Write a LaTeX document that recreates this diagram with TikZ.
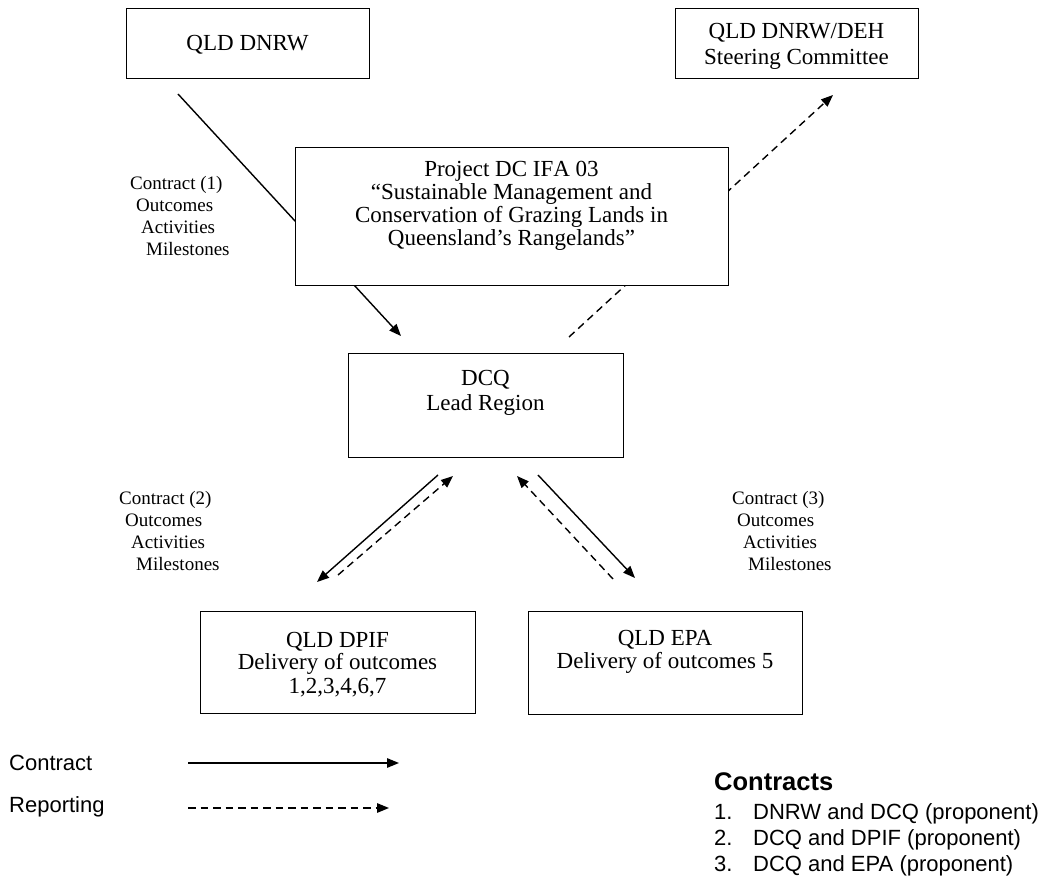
\documentclass[tikz,border=0pt]{standalone}
\usepackage{fontspec}
\setmainfont{Liberation Serif}
\newfontfamily\arialfont{Liberation Sans}
\usetikzlibrary{arrows.meta}
\begin{document}
\begin{tikzpicture}[x=1pt,y=-1pt,
  box/.style={draw, line width=1.3pt, fill=white, inner sep=0pt, anchor=north west},
  btxt/.style={font=\fontsize{23}{23}\selectfont, anchor=base, inner sep=0pt},
  lbl/.style={font=\fontsize{19}{19}\selectfont, anchor=base west, inner sep=0pt},
  sans/.style={font=\arialfont\fontsize{22}{22}\selectfont, anchor=base west, inner sep=0pt},
  shead/.style={font=\arialfont\bfseries\fontsize{25.5}{25.5}\selectfont, anchor=base west, inner sep=0pt},
  tip/.style={-{Triangle[length=12pt,width=9.5pt]}},
  contract/.style={tip, line width=1.4pt},
  reporting/.style={tip, line width=1.4pt, dash pattern=on 7.5pt off 5pt}]
\useasboundingbox (0,0) rectangle (1042,877);

% free ends of connectors
\coordinate (a1s) at (178,94);   \coordinate (a1e) at (401,336);
\coordinate (a2s) at (569,337);  \coordinate (a2e) at (833,95);
\coordinate (a3s) at (438,475);  \coordinate (a3e) at (317,582);
\coordinate (a4s) at (338,575);  \coordinate (a4e) at (453,476);
\coordinate (a5s) at (613,579);  \coordinate (a5e) at (517,476);
\coordinate (a6s) at (538,475);  \coordinate (a6e) at (635,578);

% connectors (drawn first; project box covers them)
\draw[contract]  (a1s) -- (a1e);
\draw[reporting] (a2s) -- (a2e);
\draw[contract]  (a3s) -- (a3e);
\draw[reporting] (a4s) -- (a4e);
\draw[reporting] (a5s) -- (a5e);
\draw[contract]  (a6s) -- (a6e);

% boxes
\node[box, minimum width=243pt, minimum height=70pt]  (dnrw)  at (126,8)   {};
\node[box, minimum width=243pt, minimum height=70pt]  (steer) at (675,8)   {};
\node[box, minimum width=433pt, minimum height=138pt] (proj)  at (295,147) {};
\node[box, minimum width=275pt, minimum height=104pt] (dcq)   at (348,353) {};
\node[box, minimum width=275pt, minimum height=102pt] (dpif)  at (200,611) {};
\node[box, minimum width=274pt, minimum height=103pt] (epa)   at (528,611) {};

% box texts
\node[btxt] (t1) at (247.5,51) {QLD DNRW};
\node[btxt] (t2a) at (796.5,39) {QLD DNRW/DEH};
\node[btxt] (t2b) at (796.5,65) {Steering Committee};
\node[btxt] (t3a) at (511.5,177)   {Project DC IF\kern0ptA 03};
\node[btxt] (t3b) at (511.5,200)   {“Sustainable Management and};
\node[btxt] (t3c) at (511.5,222.5) {Conservation of Grazing Lands in};
\node[btxt] (t3d) at (511.5,245.5) {Queensland’s Rangelands”};
\node[btxt] (t4a) at (485.5,385) {DCQ};
\node[btxt] (t4b) at (485.5,410) {Lead Region};
\node[btxt] (t5a) at (337.5,647) {QLD DPIF};
\node[btxt] (t5b) at (337.5,669) {Delivery of outcomes};
\node[btxt] (t5c) at (337.5,693) {1,2,3,4,6,7};
\node[btxt] (t6a) at (665,645) {QLD EPA};
\node[btxt] (t6b) at (665,668) {Delivery of outcomes 5};

% connector labels
\node[lbl] (l1a) at (130,190)   {Contract (1)};
\node[lbl] (l1b) at (136,212)   {Outcomes};
\node[lbl] (l1c) at (141,233.5) {Activities};
\node[lbl] (l1d) at (146,255.5) {Milestones};
\node[lbl] (l2a) at (119,504) {Contract (2)};
\node[lbl] (l2b) at (125,526) {Outcomes};
\node[lbl] (l2c) at (131,548) {Activities};
\node[lbl] (l2d) at (136,570) {Milestones};
\node[lbl] (l3a) at (732,504) {Contract (3)};
\node[lbl] (l3b) at (737,526) {Outcomes};
\node[lbl] (l3c) at (743,548) {Activities};
\node[lbl] (l3d) at (748,570) {Milestones};

% legend
\node[sans] (lgc) at (9,770) {Contract};
\node[sans] (lgr) at (9,812) {Reporting};
\coordinate (lcs) at (188,763); \coordinate (lce) at (399,763);
\coordinate (lrs) at (188,808); \coordinate (lre) at (389,808);
\draw[contract]  (lcs) -- (lce);
\draw[reporting] (lrs) -- (lre);

% contracts list
\node[shead] (ch) at (714,790) {Contracts};
\node[sans] (n1) at (714,819) {1.};
\node[sans] (c1) at (753,819) {DNRW and DCQ (proponent)};
\node[sans] (n2) at (714,845) {2.};
\node[sans] (c2) at (753,845) {DCQ and DPIF (proponent)};
\node[sans] (n3) at (714,871) {3.};
\node[sans] (c3) at (753,871) {DCQ and EPA (proponent)};
\end{tikzpicture}
\end{document}
